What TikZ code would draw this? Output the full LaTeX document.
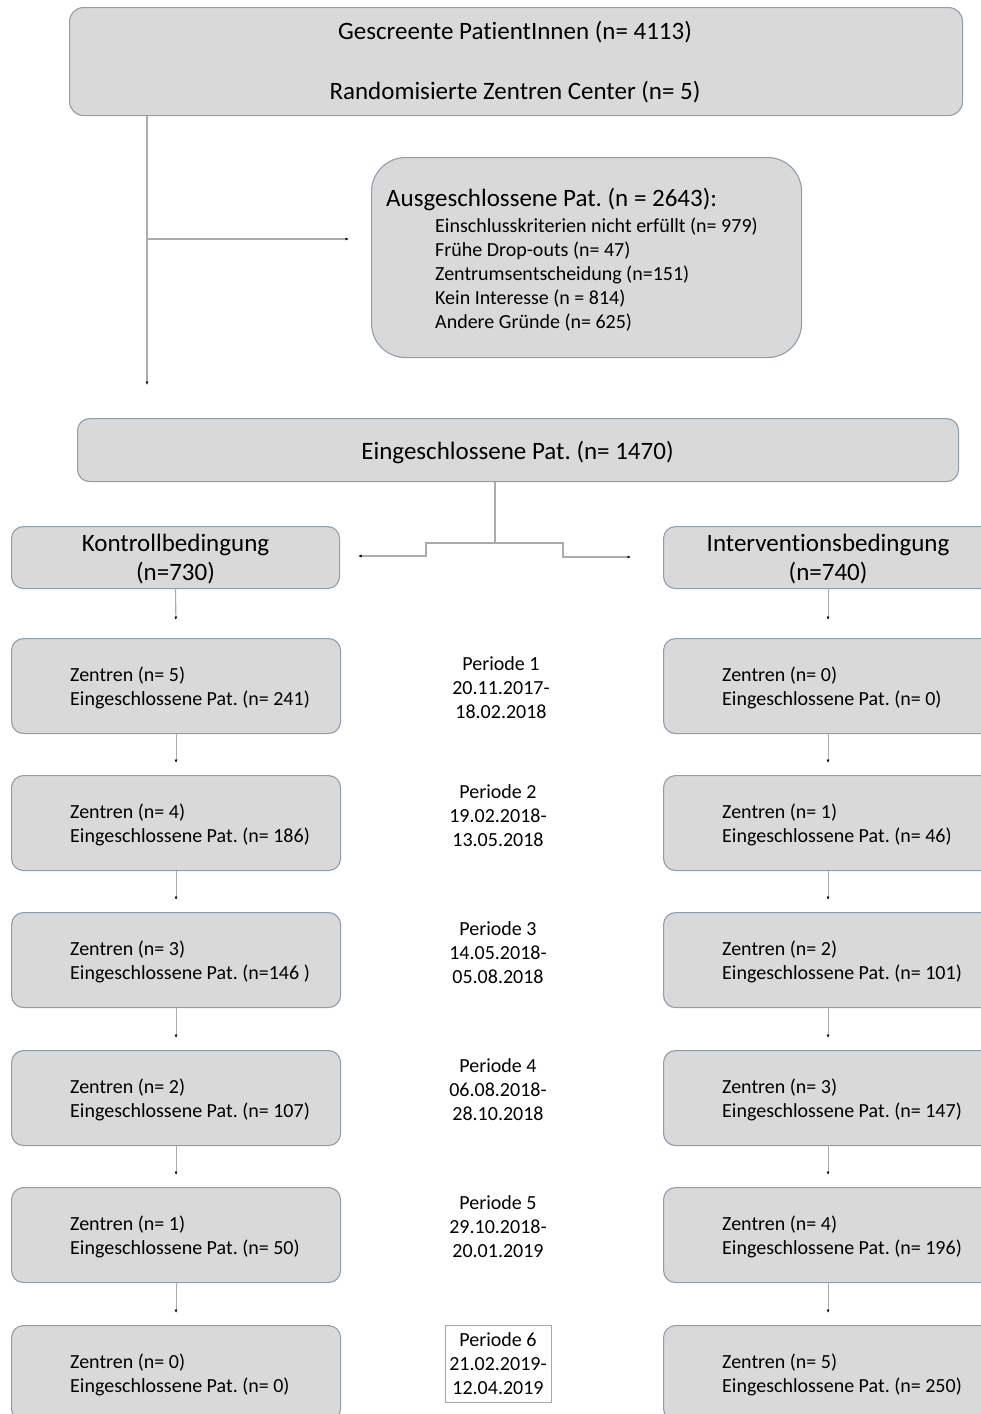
\documentclass[tikz,border=0pt]{standalone}
\usepackage{fontspec}
\setmainfont[Ligatures=NoCommon]{Carlito}
\usetikzlibrary{arrows.meta,calc}
\definecolor{boxfill}{HTML}{D9D9D9}
\definecolor{boxdraw}{HTML}{8E9DAF}
\definecolor{linegray}{HTML}{ABABAB}
\frenchspacing
\begin{document}
\begin{tikzpicture}[x=1pt,y=-1pt,
  box/.style={draw=boxdraw, fill=boxfill, line width=1.1pt, rounded corners=14pt, anchor=north west, inner sep=0pt},
  hd/.style={font=\fontsize{25}{29}\selectfont, align=center, inner sep=0pt},
  txt/.style={font=\fontsize{20}{24}\selectfont, align=left, inner sep=0pt, anchor=west},
  per/.style={font=\fontsize{20}{24}\selectfont, align=center, inner sep=0pt},
  conn/.style={draw=linegray, line width=1.1pt, -{Latex[length=3.5pt,width=3pt,color=black]}},
  plain/.style={draw=linegray, line width=1.1pt}]
\useasboundingbox (0,0) rectangle (981,1414);
% top box
\node[box, minimum width=893pt, minimum height=108pt] (top) at (69,7) {};
\node[hd] (topa) at (515,32) {Gescreente PatientInnen (n= 4113)};
\node[hd] (topb) at (515,92) {Randomisierte Zentren Center (n= 5)};
% exclusion box
\node[box, rounded corners=34pt, minimum width=430pt, minimum height=200pt] (ex) at (371,157) {};
\node[hd, anchor=west] (exa) at (386,200) {Ausgeschlossene Pat. (n = 2643):};
\node[txt] (exb) at (435,275) {Einschlusskriterien nicht erfüllt (n= 979)\\Frühe Drop-outs (n= 47)\\Zentrumsentscheidung (n=151)\\Kein Interesse (n = 814)\\Andere Gründe (n= 625)};
% included
\node[box, rounded corners=12pt, minimum width=881pt, minimum height=63pt] (incl) at (77,418) {};
\node[hd] (incla) at (517.5,452) {Eingeschlossene Pat. (n= 1470)};
% arms
\node[box, rounded corners=12pt, minimum width=328pt, minimum height=62pt, font=\fontsize{25}{29}\selectfont, align=center, text depth=0pt] (kon) at (11,526) {Kontrollbedingung\\(n=730)};
\node[box, rounded corners=12pt, minimum width=329pt, minimum height=62pt, font=\fontsize{25}{29}\selectfont, align=center, text depth=0pt] (int) at (663,526) {Interventionsbedingung\\(n=740)};
% rows
\foreach \i/\y/\kz/\kp/\iz/\ip in {1/638/5/241/0/0, 2/775/4/186/1/46, 3/912/3/146 /2/101, 4/1050/2/107/3/147, 5/1187/1/50/4/196, 6/1325/0/0/5/250}{
  \node[box, rounded corners=12pt, minimum width=329pt, minimum height=95pt] (k\i) at (11,\y) {};
  \node[box, rounded corners=12pt, minimum width=329pt, minimum height=95pt] (v\i) at (663,\y) {};
  \node[txt] (kt\i) at (70,\y+50) {Zentren (n= \kz)\\Eingeschlossene Pat. (n=\ifnum\i=3 \kp\else\space\kp\fi)};
  \node[txt] (vt\i) at (722,\y+50) {Zentren (n= \iz)\\Eingeschlossene Pat. (n= \ip)};
}
% periods
\node[per] (p1) at (501,688) {Periode 1\\20.11.2017-\\18.02.2018};
\node[per] (p2) at (498,816) {Periode 2\\19.02.2018-\\13.05.2018};
\node[per] (p3) at (498,953) {Periode 3\\14.05.2018-\\05.08.2018};
\node[per] (p4) at (498,1090) {Periode 4\\06.08.2018-\\28.10.2018};
\node[per] (p5) at (498,1227) {Periode 5\\29.10.2018-\\20.01.2019};
\node[per, draw=black!35, line width=0.8pt, minimum width=106pt, minimum height=77pt, text depth=0pt] (p6) at (498,1363.5) {Periode 6\\21.02.2019-\\12.04.2019};
% connectors top
\coordinate (sx) at (147,0);
\coordinate (br) at (147,239);
\draw[conn, shorten >=33pt] (top.south -| sx) -- (incl.north -| sx);
\draw[conn, shorten >=22pt] (br) -- (ex.west |- br);
% split
\coordinate (mx) at (495,0);
\coordinate (jn) at (495,543);
\coordinate (lk) at (358,556);
\coordinate (rk) at (631,557);
\draw[plain] (incl.south -| mx) -- (jn);
\draw[conn] (jn) -- (426,543) -- (426,556) -- (lk);
\draw[conn] (jn) -- (563,543) -- (563,557) -- (rk);
% columns
\draw[conn, shorten >=18pt] (kon.south) -- (k1.north);
\draw[conn, shorten >=18pt] (int.south) -- (v1.north);
\foreach \a/\b in {1/2,2/3,3/4,4/5,5/6}{
  \draw[conn, shorten >=12pt] (k\a.south) -- (k\b.north);
  \draw[conn, shorten >=12pt] (v\a.south) -- (v\b.north);
}
\end{tikzpicture}
\end{document}
